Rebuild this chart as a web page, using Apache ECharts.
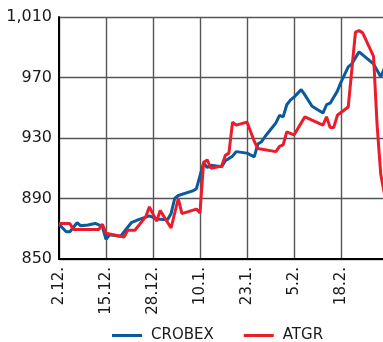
<!DOCTYPE html>
<html>
<head>
<meta charset="utf-8">
<script src="https://cdn.jsdelivr.net/npm/echarts@6/dist/echarts.min.js"></script>
<style>html,body{margin:0;padding:0;background:#fff;}#c{width:383px;height:342px;}</style>
</head>
<body>
<div id="c"></div>
<script>
// x tick labels every 13 days starting at 2.12.
var xTickLabels = ['2.12.', '15.12.', '28.12.', '10.1.', '23.1.', '5.2.', '18.2.'];
var yTickValues = [850, 890, 930, 970, 1010];

// CROBEX: day offset from 2.12. and index value
var crobexDays = [0, 2, 3, 5, 6, 8, 10, 12, 13, 14, 17, 19, 20, 22, 25, 27, 30, 31, 32, 33, 37, 38, 40, 41, 42, 45, 46, 48, 49, 52, 54, 55, 56, 57, 58, 60, 61, 62, 63, 64, 65, 66, 67, 68, 70, 73, 74, 75, 77, 78, 80, 81, 83, 85, 87, 89, 90];
var crobexValues = [873, 868, 868, 874, 872, 872.5, 873.5, 871.5, 863, 866, 865, 871, 874, 876, 878.5, 876.5, 876, 880, 890, 892, 895, 896.5, 913.5, 910.5, 912, 911, 915, 918, 921, 920, 917.5, 926, 927.5, 931, 934, 940, 945, 944, 952, 955, 957, 959.5, 962, 958.5, 951, 946.5, 952, 953, 961, 967, 977, 979, 987, 983, 979, 970.5, 976];

// ATGR: day offset from 2.12. and index value
var atgrDays = [0, 3, 4, 11, 12, 13, 16, 18, 19, 21, 24, 25, 27, 28, 31, 33, 34, 38, 39, 40, 41, 42, 45, 46, 47, 48, 49, 52, 54, 55, 60, 61, 62, 63, 65, 67, 68, 73, 74, 75, 76, 77, 80, 82, 83, 84, 87, 88, 89, 90];
var atgrValues = [873.5, 873.5, 869.5, 869.5, 873, 867, 865.5, 864.5, 869, 869, 878, 884.5, 875, 882, 870.5, 890, 880, 883, 880.5, 914, 915.5, 910, 911.5, 918.5, 920, 940.5, 938.5, 940.5, 928, 923, 921, 924.5, 925.5, 934, 932, 940, 944, 938.5, 944, 937, 937, 945, 950.5, 1000, 1001, 999.5, 984, 938, 906, 893];

function pairs(xs, ys) { return xs.map(function (x, i) { return [x, ys[i]]; }); }

var chart = echarts.init(document.getElementById('c'), null, { renderer: 'canvas' });
var font = 'DejaVu Sans';
chart.setOption({
  animation: false,
  backgroundColor: '#ffffff',
  grid: { left: 59, top: 17, bottom: 83, right: -20, containLabel: false, outerBoundsMode: 'none' },
  xAxis: {
    type: 'value',
    min: 0,
    max: 95.15,
    interval: 13,
    axisLine: { show: true, onZero: false, lineStyle: { color: '#000', width: 2 } },
    axisTick: { show: false },
    splitLine: { show: true, lineStyle: { color: '#555', width: 1.4 } },
    axisLabel: {
      rotate: 90,
      margin: 8,
      showMaxLabel: false,
      color: '#1a1a1a',
      fontFamily: font,
      fontSize: 15,
      formatter: function (v) { var i = Math.round(v / 13); return (Math.abs(v - i * 13) < 0.01 && xTickLabels[i]) ? xTickLabels[i] : ''; }
    }
  },
  yAxis: {
    type: 'value',
    min: yTickValues[0],
    max: yTickValues[yTickValues.length - 1],
    interval: 40,
    axisLine: { show: true, lineStyle: { color: '#000', width: 2 } },
    axisTick: { show: false },
    splitLine: { show: true, lineStyle: { color: '#555', width: 1.4 } },
    axisLabel: {
      margin: 7,
      color: '#1a1a1a',
      fontFamily: font,
      fontSize: 16,
      formatter: function (v) { return v >= 1000 ? Math.floor(v / 1000) + ',' + String(v % 1000).padStart(3, '0') : String(v); }
    }
  },
  legend: {
    left: 112,
    top: 328,
    padding: 0,
    icon: 'rect',
    itemWidth: 30,
    itemHeight: 3,
    itemGap: 30,
    textStyle: { fontFamily: font, fontSize: 15, color: '#1a1a1a', padding: [3, 0, 0, 4] },
    data: ['CROBEX', 'ATGR']
  },
  series: [
    {
      name: 'CROBEX', type: 'line', symbol: 'none', clip: true,
      lineStyle: { color: '#0a5a9c', width: 3 }, itemStyle: { color: '#0a5a9c' },
      data: pairs(crobexDays, crobexValues)
    },
    {
      name: 'ATGR', type: 'line', symbol: 'none', clip: true,
      lineStyle: { color: '#ec1c2a', width: 3 }, itemStyle: { color: '#ec1c2a' },
      data: pairs(atgrDays, atgrValues)
    }
  ]
});
</script>
</body>
</html>
